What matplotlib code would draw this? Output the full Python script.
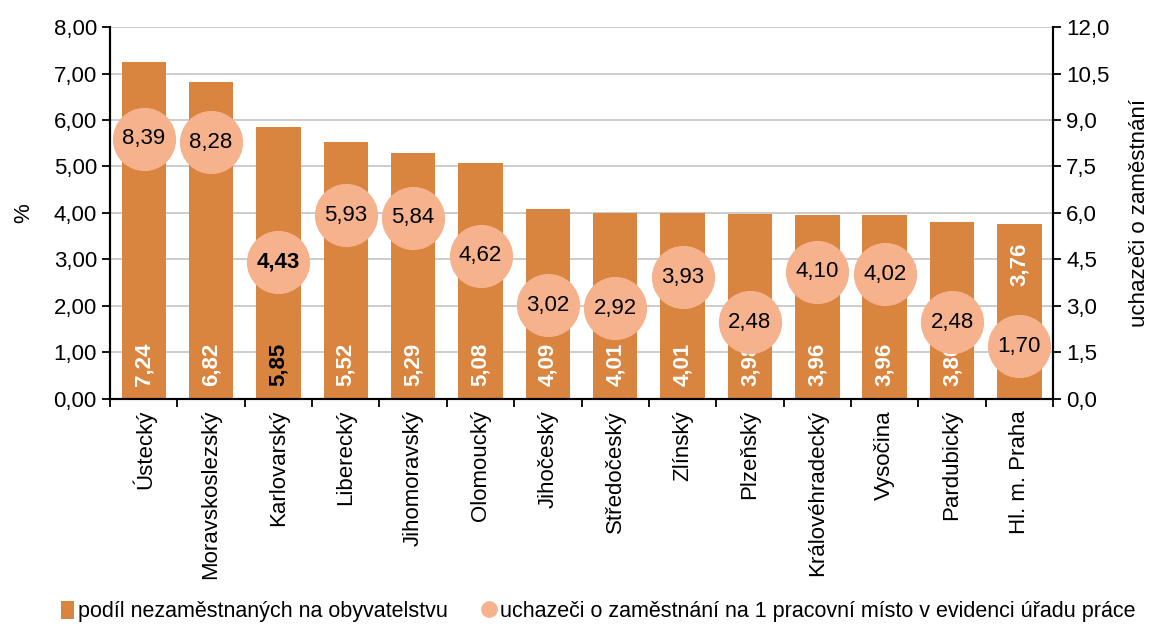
import matplotlib.pyplot as plt
from matplotlib.lines import Line2D
from matplotlib.patches import Patch

plt.rcParams["font.family"] = ["Liberation Sans", "DejaVu Sans"]

regions = ["Ústecký", "Moravskoslezský", "Karlovarský", "Liberecký", "Jihomoravský",
           "Olomoucký", "Jihočeský", "Středočeský", "Zlínský", "Plzeňský",
           "Královéhradecký", "Vysočina", "Pardubický", "Hl. m. Praha"]
unemployed = [7.24, 6.82, 5.85, 5.52, 5.29, 5.08, 4.09, 4.01, 4.01, 3.98, 3.96, 3.96, 3.80, 3.76]
applicants = [8.39, 8.28, 4.43, 5.93, 5.84, 4.62, 3.02, 2.92, 3.93, 2.48, 4.10, 4.02, 2.48, 1.70]
left_ticks = [0, 1, 2, 3, 4, 5, 6, 7, 8]
right_ticks = [0, 1.5, 3, 4.5, 6, 7.5, 9, 10.5, 12]

bar_color = "#D9843F"
dot_color = "#F5B28C"
fs = 16

def comma(v, d):
    return f"{v:.{d}f}".replace(".", ",")

fig = plt.figure(figsize=(11.5, 6.34), dpi=100)
ax = fig.add_axes([0.0957, 0.3707, 0.82, 0.5867])
ax2 = ax.twinx()

x = list(range(len(regions)))
ax.bar(x, unemployed, width=0.66, color=bar_color, zorder=2)
ax.set_xlim(-0.5, len(regions) - 0.5)
ax.set_ylim(0, 8)
ax.set_yticks(left_ticks)
ax.set_yticklabels([comma(v, 2) for v in left_ticks], fontsize=fs)
ax.grid(axis="y", color="#C8C8C8", linewidth=1.3, zorder=0)
ax.set_axisbelow(True)
ax.set_ylabel("%", fontsize=fs, labelpad=14)

# ticks between categories, labels at centers
ax.set_xticks([i - 0.5 for i in range(len(regions) + 1)])
ax.set_xticklabels([])
ax.set_xticks(x, minor=True)
ax.set_xticklabels(regions, minor=True, rotation=90, fontsize=fs, va="top", ha="center")
ax.tick_params(axis="x", which="minor", length=0, pad=8)
ax.tick_params(axis="x", which="major", length=6, width=1.3, direction="out")
ax.tick_params(axis="y", length=6, width=1.3, direction="out")

for s in ["top"]:
    ax.spines[s].set_visible(False)
    ax2.spines[s].set_visible(False)
for s in ["left", "bottom", "right"]:
    ax.spines[s].set_linewidth(1.5)
    ax2.spines[s].set_linewidth(1.5)

for i, v in enumerate(unemployed):
    bold_black = regions[i] == "Karlovarský"
    if regions[i] == "Hl. m. Praha":
        ax.text(i, v - 0.4, comma(v, 2), rotation=90, ha="center", va="top",
                color="white", fontweight="bold", fontsize=fs)
    else:
        ax.text(i, 0.28, comma(v, 2), rotation=90, ha="center", va="bottom",
                color="black" if bold_black else "white", fontweight="bold", fontsize=fs)

ax2.plot(x, applicants, linestyle="none", marker="o", markersize=44.5,
         markerfacecolor=dot_color, markeredgecolor=dot_color, zorder=3)
ax2.set_ylim(0, 12)
ax2.set_yticks(right_ticks)
ax2.set_yticklabels([comma(v, 1) for v in right_ticks], fontsize=fs)
ax2.tick_params(axis="y", length=6, width=1.3, direction="out")
ax2.set_ylabel("uchazeči o zaměstnání", fontsize=fs, labelpad=14)
ax2.set_xlim(-0.5, len(regions) - 0.5)

for i, v in enumerate(applicants):
    ax2.text(i, v, comma(v, 2), ha="center", va="center", fontsize=fs,
             fontweight="bold" if regions[i] == "Karlovarský" else "normal", zorder=4)

handles = [
    Patch(facecolor=bar_color, edgecolor="none", label="podíl nezaměstnaných na obyvatelstvu"),
    Line2D([], [], linestyle="none", marker="o", markersize=11, markerfacecolor=dot_color,
           markeredgecolor=dot_color, label="uchazeči o zaměstnání na 1 pracovní místo v evidenci úřadu práce"),
]
fig.legend(handles=handles, loc="lower center", bbox_to_anchor=(0.52, -0.012), ncol=2,
           frameon=False, fontsize=15.5, handlelength=0.6, handleheight=0.9,
           handletextpad=0.2, columnspacing=1.6)

fig.savefig("out.png", dpi=100)
